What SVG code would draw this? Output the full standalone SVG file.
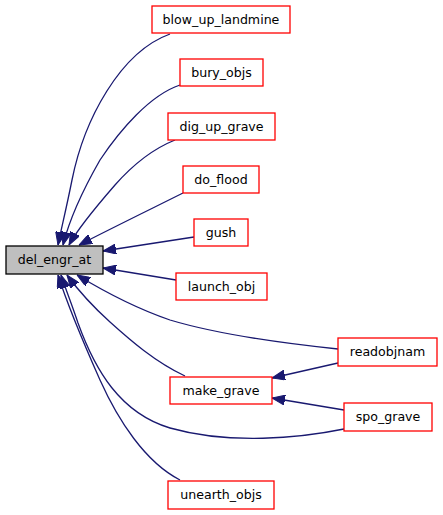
<svg xmlns="http://www.w3.org/2000/svg" width="443" height="515" viewBox="0 0 443 515">
<style>
.n rect{fill:#ffffff;stroke:#ff0000;stroke-width:1.3}
.n text{font-family:"DejaVu Sans",sans-serif;font-size:12.6px;text-anchor:middle;fill:#000000}
#del_engr_at rect{fill:#bfbfbf;stroke:#000000}
.e path{fill:none;stroke:#191970;stroke-width:1.3;marker-end:url(#ah)}
</style>
<defs>
<marker id="ah" viewBox="0 0 13 10" refX="13" refY="5" markerWidth="13" markerHeight="10" markerUnits="userSpaceOnUse" orient="auto">
<path d="M0,0 L13,5 L0,10 z" fill="#191970" stroke="#191970" stroke-width="1"/>
</marker>
</defs>
<rect width="443" height="515" fill="#ffffff"/>
<g class="e" id="edges">
<path d="M170,34 C120,52 84,120 72,180 C66,210 61,230 58,245"/>
<path d="M180,85 C150,95 120,130 100,160 C80,195 68,225 63,245"/>
<path d="M175,140 C150,150 130,168 115,185 C95,208 78,228 69,245"/>
<path d="M183,193 C155,207 112,228 79,245"/>
<path d="M194,237 L103,251"/>
<path d="M176,280 L103,268"/>
<path d="M338,349 C290,344 220,335 170,320 C135,308 105,292 77,275"/>
<path d="M185,376 C155,362 130,340 110,322 C90,304 78,290 67,275"/>
<path d="M344,429 C300,438 230,445 170,428 C120,413 95,370 78,323 C72,305 66,290 61,275"/>
<path d="M180,480 C145,462 118,420 100,380 C80,335 66,300 58,275"/>
<path d="M338,363 L272,378"/>
<path d="M344,410 L272,398"/>
</g>
<g class="n" id="del_engr_at"><rect x="6" y="246" width="97" height="28"/><text x="54.5" y="264">del_engr_at</text></g>
<g class="n" id="blow_up_landmine"><rect x="152" y="6" width="138" height="27"/><text x="221" y="24">blow_up_landmine</text></g>
<g class="n" id="bury_objs"><rect x="180" y="59" width="83" height="27"/><text x="221.5" y="77">bury_objs</text></g>
<g class="n" id="dig_up_grave"><rect x="168" y="113" width="107" height="27"/><text x="221.5" y="131">dig_up_grave</text></g>
<g class="n" id="do_flood"><rect x="183" y="166" width="76" height="27"/><text x="221" y="184">do_flood</text></g>
<g class="n" id="gush"><rect x="194" y="219" width="54" height="27"/><text x="221" y="237">gush</text></g>
<g class="n" id="launch_obj"><rect x="176" y="273" width="91" height="27"/><text x="221.5" y="291">launch_obj</text></g>
<g class="n" id="readobjnam"><rect x="338" y="338" width="99" height="28"/><text x="387.5" y="356">readobjnam</text></g>
<g class="n" id="make_grave"><rect x="170" y="377" width="102" height="27"/><text x="221" y="395">make_grave</text></g>
<g class="n" id="spo_grave"><rect x="344" y="403" width="88" height="28"/><text x="388" y="421">spo_grave</text></g>
<g class="n" id="unearth_objs"><rect x="168" y="481" width="106" height="28"/><text x="221" y="499">unearth_objs</text></g>
</svg>
